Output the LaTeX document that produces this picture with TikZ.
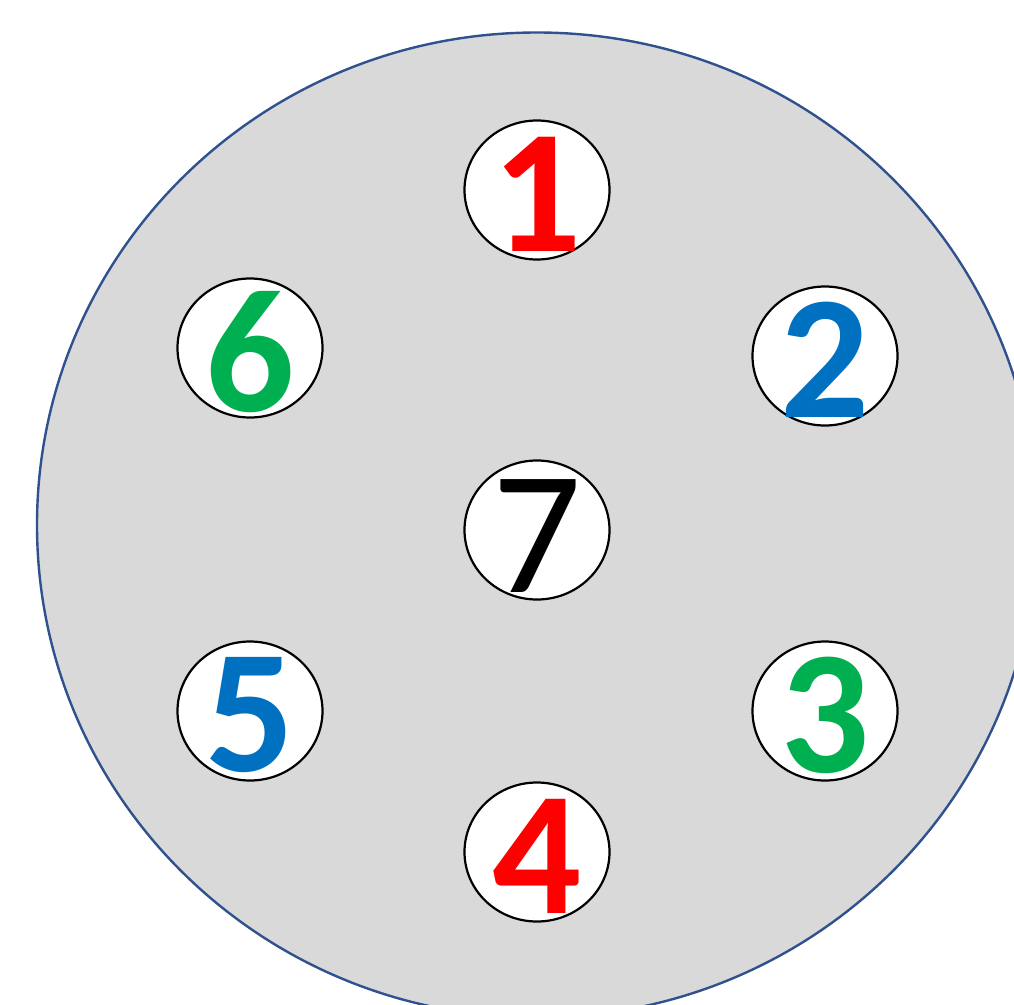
\documentclass[tikz,border=0pt]{standalone}
\usepackage{fontspec}
\setmainfont{Carlito}[UprightFont=*-Regular, BoldFont=*-Bold, ItalicFont=*-Italic]
\usetikzlibrary{shapes.geometric}
\definecolor{pinred}{HTML}{FF0000}
\definecolor{pinblue}{HTML}{0070C0}
\definecolor{pingreen}{HTML}{00B050}
\definecolor{plateedge}{HTML}{2F528F}
\definecolor{plategrey}{HTML}{D9D9D9}
\begin{document}
\begin{tikzpicture}[x=1pt, y=-1pt,
    hole/.style={draw, ellipse, fill=white, line width=2.2pt, minimum width=145pt, minimum height=139pt, inner sep=0pt},
    digit/.style={font=\fontsize{176}{176}\selectfont\bfseries, inner sep=0pt, yshift=-4pt},
]
\useasboundingbox (0,0) rectangle (1014,1004);
\clip (0,0) rectangle (1014,1004);
\node[draw=plateedge, fill=plategrey, ellipse, line width=2.4pt, minimum width=1000pt, minimum height=985pt, inner sep=0pt] (plate) at (537,525) {};
\foreach \i/\x/\y/\c in {1/537/190/pinred, 2/825/356/pinblue, 3/825/711/pingreen, 4/537/852/pinred, 5/250/711/pinblue, 6/250/348/pingreen} {
  \node[hole] (h\i) at (\x,\y) {};
  \node[digit, text=\c] (d\i) at (h\i) {\i};
}
\node[hole] (h7) at (537,530) {};
\node[digit, font=\fontsize{176}{176}\selectfont, yshift=-2pt] (d7) at (h7) {7};
\end{tikzpicture}
\end{document}
